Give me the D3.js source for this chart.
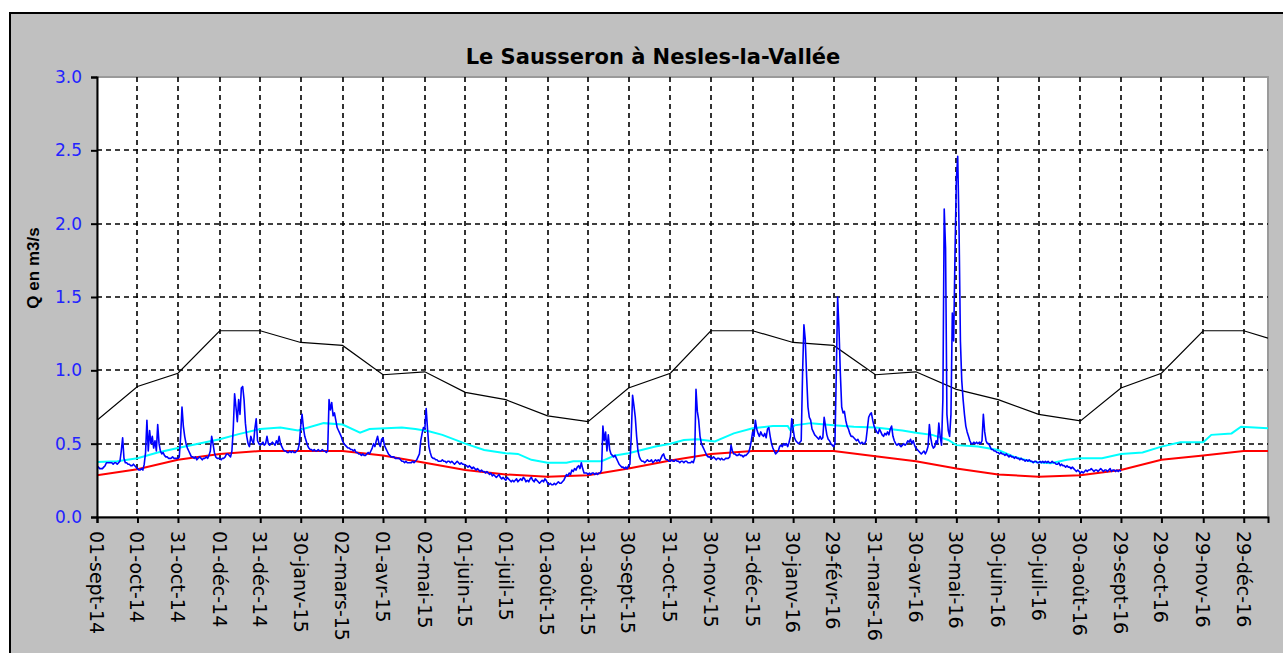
<!DOCTYPE html>
<html>
<head>
<meta charset="utf-8">
<script src="https://cdn.jsdelivr.net/npm/d3@7"></script>
<style>
  body { margin: 0; background: #fff; }
  svg { display: block; }
</style>
</head>
<body>
<div id="chart"></div>
<script>
// Tick dates on the time axis and their labels (as printed on the chart).
var tickDates = ['2014-09-01','2014-10-01','2014-10-31','2014-12-01','2014-12-31','2015-01-30','2015-03-02',
    '2015-04-01','2015-05-02','2015-06-01','2015-07-01','2015-08-01','2015-08-31','2015-09-30','2015-10-31',
    '2015-11-30','2015-12-31','2016-01-30','2016-02-29','2016-03-31','2016-04-30','2016-05-30','2016-06-30',
    '2016-07-30','2016-08-30','2016-09-29','2016-10-29','2016-11-29','2016-12-29'];
var tickLabels = ['01-sept-14','01-oct-14','31-oct-14','01-déc-14','31-déc-14','30-janv-15','02-mars-15',
    '01-avr-15','02-mai-15','01-juin-15','01-juil-15','01-août-15','31-août-15','30-sept-15','31-oct-15',
    '30-nov-15','31-déc-15','30-janv-16','29-févr-16','31-mars-16','30-avr-16','30-mai-16','30-juin-16',
    '30-juil-16','30-août-16','29-sept-16','29-oct-16','29-nov-16','29-déc-16'];
var yTicks = [0, 0.5, 1.0, 1.5, 2.0, 2.5, 3.0];

var startDate = '2014-09-01',
    endDate = '2017-01-16';

// Reference curves, one value per tick date plus the last date of the axis.
var refDates = tickDates.concat([endDate]);
var blackValues = [0.66,0.89,0.98,1.27,1.27,1.19,1.17,0.97,0.99,0.85,0.80,0.69,0.65,0.88,0.98,
    1.27,1.27,1.19,1.17,0.97,0.99,0.87,0.80,0.70,0.655,0.88,0.98,1.27,1.27,1.22];
var redValues = [0.285,0.325,0.39,0.43,0.45,0.45,0.45,0.42,0.37,0.32,0.29,0.275,0.285,0.33,0.385,
    0.43,0.45,0.45,0.45,0.415,0.38,0.33,0.29,0.275,0.285,0.32,0.39,0.42,0.45,0.45];

// Cyan curve has a few more wiggles, so it gets its own dates.
var cyanDates = ['2014-09-01','2014-09-16','2014-10-01','2014-10-16','2014-10-31','2014-11-15','2014-12-01',
    '2014-12-15','2014-12-31','2015-01-15','2015-01-28','2015-02-16','2015-03-02','2015-03-15','2015-03-22',
    '2015-04-15','2015-04-25','2015-05-05','2015-05-15','2015-06-01','2015-06-15','2015-07-01','2015-07-10',
    '2015-07-20','2015-08-01','2015-08-15','2015-08-20','2015-09-10','2015-09-20','2015-09-30','2015-10-20',
    '2015-10-31','2015-11-10','2015-11-20','2015-12-03','2015-12-17','2015-12-31','2016-01-15','2016-01-26',
    '2016-01-28','2016-01-31','2016-02-12','2016-02-29','2016-03-15','2016-03-31','2016-04-20','2016-04-30',
    '2016-05-12','2016-05-24','2016-05-30','2016-06-15','2016-06-30','2016-07-12','2016-07-25','2016-08-08',
    '2016-08-20','2016-08-30','2016-09-15','2016-09-29','2016-10-15','2016-10-29','2016-11-12','2016-11-29',
    '2016-12-05','2016-12-20','2016-12-27','2017-01-16'];
var cyanValues = [0.375,0.38,0.40,0.44,0.47,0.50,0.53,0.565,0.60,0.61,0.59,0.64,0.63,0.575,0.60,
    0.61,0.60,0.585,0.56,0.50,0.457,0.435,0.43,0.39,0.37,0.37,0.38,0.38,0.42,0.435,0.48,
    0.50,0.525,0.53,0.515,0.57,0.605,0.62,0.62,0.59,0.625,0.64,0.625,0.615,0.61,0.59,0.575,
    0.56,0.525,0.49,0.48,0.457,0.41,0.377,0.366,0.39,0.40,0.40,0.43,0.44,0.48,0.51,0.51,
    0.56,0.57,0.615,0.605];

// Daily discharge (m3/s), one value per day from 01-sept-14.
var dailyFlow = [
    0.35,0.34,0.33,0.33,0.33,0.34,0.35,0.37,0.37,0.37, 0.37,0.37,0.36,0.37,0.37,0.36,0.37,0.38,0.45,0.54,
    0.40,0.37,0.37,0.36,0.36,0.35,0.35,0.36,0.35,0.34, 0.33,0.32,0.32,0.33,0.32,0.36,0.44,0.66,0.45,0.59,
    0.50,0.55,0.47,0.52,0.45,0.63,0.50,0.45,0.43,0.44, 0.42,0.41,0.41,0.40,0.40,0.40,0.41,0.40,0.40,0.40,
    0.40,0.41,0.55,0.75,0.62,0.55,0.50,0.47,0.45,0.43, 0.41,0.41,0.40,0.41,0.39,0.40,0.41,0.40,0.39,0.40,
    0.40,0.41,0.40,0.42,0.45,0.55,0.50,0.44,0.41,0.40, 0.40,0.40,0.39,0.40,0.40,0.41,0.43,0.43,0.42,0.41,
    0.45,0.60,0.84,0.75,0.65,0.80,0.70,0.88,0.89,0.80, 0.64,0.55,0.50,0.48,0.55,0.52,0.50,0.60,0.67,0.52,
    0.50,0.49,0.50,0.51,0.49,0.50,0.55,0.50,0.49,0.50, 0.51,0.50,0.49,0.52,0.50,0.55,0.50,0.48,0.46,0.45,
    0.45,0.44,0.44,0.45,0.44,0.45,0.44,0.44,0.45,0.46, 0.50,0.62,0.70,0.61,0.55,0.52,0.49,0.47,0.46,0.46,
    0.45,0.46,0.45,0.45,0.46,0.45,0.45,0.46,0.45,0.45, 0.44,0.45,0.80,0.73,0.78,0.69,0.71,0.66,0.61,0.59,
    0.57,0.55,0.52,0.50,0.49,0.48,0.47,0.47,0.46,0.46, 0.45,0.46,0.44,0.44,0.43,0.43,0.42,0.43,0.42,0.42,
    0.43,0.44,0.43,0.45,0.47,0.50,0.48,0.52,0.55,0.50, 0.48,0.53,0.54,0.49,0.47,0.45,0.43,0.42,0.41,0.41,
    0.41,0.40,0.40,0.40,0.40,0.39,0.38,0.38,0.37,0.38, 0.37,0.37,0.37,0.37,0.38,0.37,0.38,0.39,0.41,0.43,
    0.52,0.57,0.61,0.60,0.74,0.60,0.48,0.44,0.41,0.40, 0.40,0.39,0.39,0.38,0.38,0.38,0.39,0.38,0.38,0.37,
    0.38,0.38,0.37,0.38,0.37,0.36,0.37,0.38,0.37,0.36, 0.37,0.36,0.36,0.35,0.35,0.34,0.35,0.34,0.33,0.34,
    0.33,0.32,0.33,0.32,0.31,0.32,0.31,0.31,0.30,0.31, 0.30,0.29,0.30,0.28,0.29,0.28,0.27,0.28,0.29,0.27,
    0.26,0.27,0.26,0.25,0.27,0.26,0.25,0.24,0.25,0.24, 0.25,0.26,0.24,0.25,0.26,0.25,0.27,0.26,0.24,0.25,
    0.24,0.26,0.27,0.25,0.24,0.26,0.25,0.24,0.23,0.24, 0.25,0.24,0.26,0.25,0.23,0.22,0.23,0.22,0.22,0.23,
    0.22,0.23,0.24,0.23,0.23,0.24,0.25,0.27,0.29,0.28, 0.30,0.29,0.32,0.31,0.33,0.32,0.34,0.35,0.33,0.37,
    0.33,0.30,0.30,0.30,0.29,0.30,0.29,0.30,0.30,0.29, 0.30,0.29,0.30,0.30,0.32,0.62,0.52,0.58,0.45,0.56,
    0.46,0.43,0.42,0.41,0.42,0.40,0.38,0.36,0.35,0.34, 0.34,0.33,0.34,0.33,0.35,0.36,0.55,0.83,0.76,0.68,
    0.55,0.45,0.41,0.39,0.38,0.38,0.37,0.38,0.39,0.38, 0.38,0.39,0.37,0.38,0.39,0.38,0.39,0.38,0.40,0.42,
    0.43,0.40,0.39,0.39,0.38,0.38,0.39,0.38,0.38,0.39, 0.38,0.38,0.37,0.38,0.38,0.37,0.38,0.38,0.37,0.37,
    0.37,0.38,0.37,0.40,0.87,0.72,0.66,0.55,0.50,0.48, 0.46,0.44,0.42,0.41,0.41,0.40,0.40,0.41,0.40,0.39,
    0.40,0.40,0.39,0.40,0.39,0.39,0.40,0.40,0.40,0.41, 0.49,0.45,0.43,0.43,0.42,0.42,0.43,0.42,0.42,0.41,
    0.42,0.42,0.43,0.44,0.47,0.52,0.58,0.55,0.66,0.60, 0.57,0.55,0.58,0.56,0.55,0.57,0.54,0.60,0.61,0.55,
    0.50,0.47,0.45,0.43,0.44,0.45,0.48,0.49,0.48,0.50, 0.49,0.50,0.48,0.51,0.55,0.67,0.60,0.54,0.52,0.51,
    0.50,0.51,0.52,0.98,1.31,1.21,0.96,0.75,0.68,0.66, 0.60,0.58,0.56,0.55,0.54,0.53,0.55,0.53,0.54,0.68,
    0.62,0.56,0.53,0.52,0.50,0.49,0.48,0.50,0.98,1.50, 1.28,0.98,0.75,0.71,0.72,0.66,0.62,0.60,0.57,0.55,
    0.55,0.54,0.53,0.52,0.53,0.51,0.50,0.51,0.50,0.50, 0.52,0.60,0.68,0.70,0.71,0.66,0.62,0.60,0.58,0.57,
    0.60,0.58,0.56,0.55,0.57,0.56,0.58,0.56,0.60,0.62, 0.55,0.52,0.50,0.49,0.50,0.49,0.48,0.49,0.50,0.49,
    0.50,0.52,0.51,0.53,0.50,0.52,0.49,0.47,0.46,0.45, 0.44,0.43,0.44,0.45,0.43,0.45,0.48,0.63,0.54,0.49,
    0.47,0.48,0.52,0.50,0.64,0.55,0.49,0.80,2.10,1.83, 0.70,0.59,0.55,0.70,1.39,1.20,1.80,2.30,2.46,1.96,
    1.20,0.93,0.80,0.70,0.62,0.58,0.55,0.52,0.50,0.50, 0.51,0.50,0.51,0.50,0.51,0.50,0.52,0.70,0.58,0.52,
    0.50,0.50,0.48,0.46,0.46,0.45,0.45,0.44,0.44,0.43, 0.44,0.43,0.43,0.42,0.43,0.42,0.41,0.42,0.41,0.41,
    0.40,0.41,0.40,0.40,0.39,0.40,0.39,0.39,0.38,0.39, 0.38,0.39,0.38,0.38,0.37,0.38,0.38,0.37,0.37,0.38,
    0.37,0.38,0.37,0.38,0.37,0.38,0.37,0.37,0.38,0.37, 0.37,0.36,0.36,0.37,0.35,0.36,0.35,0.35,0.34,0.35,
    0.34,0.34,0.33,0.34,0.33,0.32,0.31,0.32,0.31,0.30, 0.31,0.30,0.31,0.32,0.31,0.32,0.32,0.33,0.32,0.31,
    0.32,0.32,0.31,0.32,0.33,0.32,0.31,0.32,0.32,0.31, 0.32,0.33,0.31,0.32,0.32,0.31,0.32,0.31,0.32,0.31
];

// Plot area inside the grey frame.
var margin = {left: 97, top: 77};
var width = 1171,
    height = 440;

var parseDate = d3.timeParse('%Y-%m-%d');

var svg = d3.select('#chart')
    .append('svg')
        .attr('width', 1283)
        .attr('height', 653);

// Grey chart frame.
svg.append('rect')
    .attr('x', 10)
    .attr('y', 13)
    .attr('width', 1300)
    .attr('height', 670)
    .attr('fill', '#c0c0c0')
    .attr('stroke', '#000')
    .attr('stroke-width', 2);

// Title.
svg.append('text')
    .attr('x', 653)
    .attr('y', 64)
    .attr('text-anchor', 'middle')
    .style('font', 'bold 21px "DejaVu Sans", sans-serif')
    .text('Le Sausseron à Nesles-la-Vallée');

// Y axis title.
svg.append('text')
    .attr('transform', 'translate(39, 268) rotate(-90)')
    .attr('text-anchor', 'middle')
    .style('font', 'bold 17px "Liberation Sans", Arial, sans-serif')
    .text('Q en m3/s');

var g = svg.append('g')
    .attr('transform', 'translate(' + margin.left + ', ' + margin.top + ')');

var x = d3.scaleTime()
    .domain([parseDate(startDate), parseDate(endDate)])
    .range([0, width]);

var y = d3.scaleLinear()
    .domain([0, 3])
    .range([height, 0]);

// Plot background.
g.append('rect')
    .attr('width', width)
    .attr('height', height)
    .attr('fill', '#fff')
    .attr('stroke', '#9a9a9a')
    .attr('stroke-width', 2);

// Dashed grid.
g.append('g')
    .selectAll('line')
    .data(yTicks.filter(function(d){ return d > 0 && d < 3; }))
    .enter().append('line')
        .attr('x1', 0)
        .attr('x2', width)
        .attr('y1', function(d){ return Math.round(y(d)); })
        .attr('y2', function(d){ return Math.round(y(d)); })
        .attr('stroke', '#000')
        .attr('stroke-width', 1.6)
        .attr('stroke-dasharray', '5,4');

g.append('g')
    .selectAll('line')
    .data(tickDates.slice(1))
    .enter().append('line')
        .attr('x1', function(d){ return Math.round(x(parseDate(d))); })
        .attr('x2', function(d){ return Math.round(x(parseDate(d))); })
        .attr('y1', 0)
        .attr('y2', height)
        .attr('stroke', '#000')
        .attr('stroke-width', 1.6)
        .attr('stroke-dasharray', '5,4');

// Series.
g.append('clipPath')
    .attr('id', 'clip')
    .append('rect')
        .attr('width', width)
        .attr('height', height);

var plot = g.append('g').attr('clip-path', 'url(#clip)');

var line = d3.line()
    .x(function(d){ return x(d.date); })
    .y(function(d){ return y(d.value); });

function pairs(dates, values){
    return dates.map(function(d, i){ return {date: parseDate(d), value: values[i]}; });
}

var flowData = dailyFlow.map(function(v, i){
    return {date: d3.timeDay.offset(parseDate(startDate), i), value: v};
});

plot.append('path')
    .datum(pairs(refDates, blackValues))
    .attr('fill', 'none')
    .attr('stroke', '#000')
    .attr('stroke-width', 1.2)
    .attr('d', line);

plot.append('path')
    .datum(pairs(cyanDates, cyanValues))
    .attr('fill', 'none')
    .attr('stroke', '#00ffff')
    .attr('stroke-width', 2)
    .attr('d', line);

plot.append('path')
    .datum(pairs(refDates, redValues))
    .attr('fill', 'none')
    .attr('stroke', '#ff0000')
    .attr('stroke-width', 2)
    .attr('d', line);

plot.append('path')
    .datum(flowData)
    .attr('fill', 'none')
    .attr('stroke', '#0000ff')
    .attr('stroke-width', 1.6)
    .attr('stroke-linejoin', 'round')
    .attr('d', line);

// Axes.
var yAxisCall = d3.axisLeft(y)
    .tickValues(yTicks)
    .tickSize(6)
    .tickPadding(9)
    .tickFormat(d3.format('.1f'));

var yAxis = g.append('g')
    .attr('class', 'y-axis')
    .call(yAxisCall);
yAxis.select('.domain').attr('stroke-width', 2);
yAxis.selectAll('line').attr('stroke-width', 2);
yAxis.selectAll('text')
    .attr('fill', '#2323ff')
    .style('font', '17px "DejaVu Sans", sans-serif');

var xAxisCall = d3.axisBottom(x)
    .tickValues(tickDates.map(parseDate))
    .tickSize(6)
    .tickFormat(function(d, i){ return tickLabels[i]; });

var xAxis = g.append('g')
    .attr('class', 'x-axis')
    .attr('transform', 'translate(0, ' + height + ')')
    .call(xAxisCall);
xAxis.select('.domain').attr('stroke-width', 2);
xAxis.selectAll('line').attr('stroke-width', 2);
xAxis.selectAll('text')
    .attr('x', 14)
    .attr('y', 0)
    .attr('dy', '0.4em')
    .attr('text-anchor', 'start')
    .attr('transform', 'rotate(90)')
    .attr('fill', '#000')
    .style('font', '19px "DejaVu Sans", sans-serif');
</script>
</body>
</html>
